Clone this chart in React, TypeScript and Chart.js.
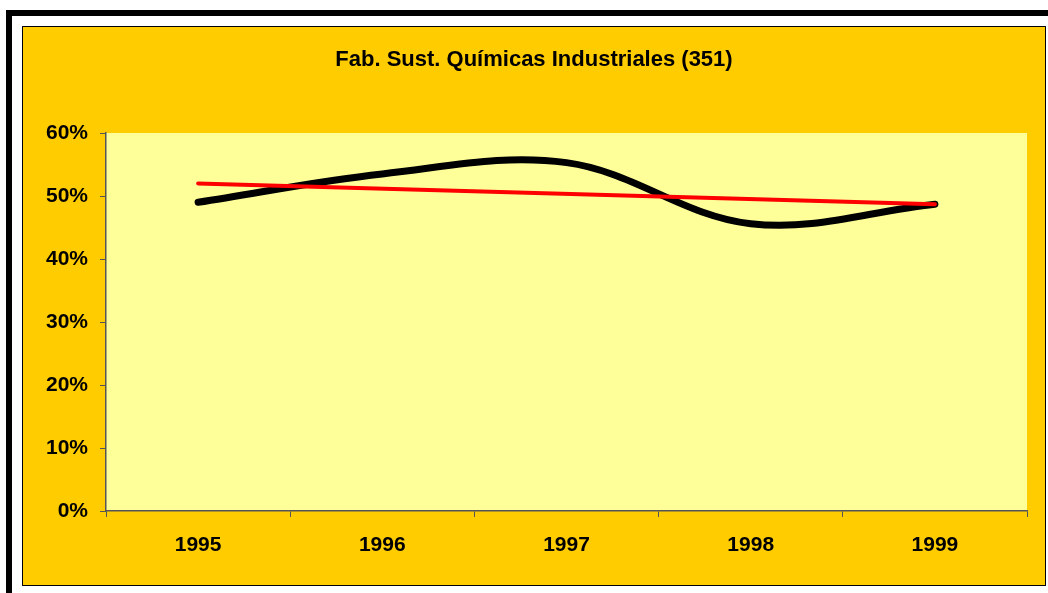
import React, { useEffect, useRef } from "react";
import { Chart, registerables } from "chart.js";

Chart.register(...registerables);

const categories = ["1995", "1996", "1997", "1998", "1999"];
const shareValues = [49.0, 53.5, 55.3, 45.6, 48.7];
const trendValues = [52.0, null, null, null, 48.7];
const yTicks = [0, 10, 20, 30, 40, 50, 60];
const titleText = "Fab. Sust. Químicas Industriales (351)";

const FONT = "'Liberation Sans', Arial, sans-serif";

const plotBg = {
  id: "plotBg",
  beforeDraw(chart: any) {
    const { ctx, chartArea } = chart;
    ctx.save();
    ctx.fillStyle = "#FFFF99";
    ctx.fillRect(chartArea.left, chartArea.top, chartArea.right - chartArea.left, chartArea.bottom - chartArea.top);
    ctx.restore();
  },
};

const centeredTitle = {
  id: "centeredTitle",
  afterDraw(chart: any) {
    const { ctx, width } = chart;
    ctx.save();
    ctx.fillStyle = "#000";
    ctx.font = `bold 22px ${FONT}`;
    ctx.textAlign = "center";
    ctx.textBaseline = "alphabetic";
    ctx.fillText(titleText, width / 2, 38.5);
    ctx.restore();
  },
};

export default function App() {
  const ref = useRef<HTMLCanvasElement | null>(null);
  useEffect(() => {
    if (!ref.current) return;
    const chart = new Chart(ref.current, {
      type: "line",
      data: {
        labels: categories,
        datasets: [
          {
            label: "trend",
            data: trendValues,
            borderColor: "#FF0000",
            borderWidth: 4,
            pointRadius: 0,
            tension: 0,
            spanGaps: true,
            borderCapStyle: "round",
            order: 0,
          },
          {
            label: "share",
            data: shareValues,
            borderColor: "#000000",
            borderWidth: 7,
            pointRadius: 0,
            tension: 0.36,
            borderCapStyle: "round",
            borderJoinStyle: "round",
            order: 1,
          },
        ],
      },
      options: {
        animation: false,
        responsive: false,
        maintainAspectRatio: false,
        layout: { padding: { top: 106, right: 18, left: 0, bottom: 0 } },
        plugins: {
          legend: { display: false },
          tooltip: { enabled: false },
          title: { display: false },
        },
        scales: {
          x: {
            type: "category",
            offset: true,
            afterFit(scale: any) {
              scale.height = 74;
            },
            grid: {
              offset: true,
              drawOnChartArea: false,
              drawTicks: true,
              tickLength: 6,
              color: "#555555",
            },
            border: { display: true, color: "#555555", width: 1.5 },
            ticks: {
              color: "#000",
              font: { family: FONT, size: 21, weight: "bold" },
              padding: 16,
              maxRotation: 0,
            },
          },
          y: {
            min: 0,
            max: 60,
            afterFit(scale: any) {
              scale.width = 83;
            },
            afterBuildTicks(scale: any) {
              scale.ticks = yTicks.map((v) => ({ value: v }));
            },
            grid: {
              drawOnChartArea: false,
              drawTicks: true,
              tickLength: 6,
              color: "#555555",
            },
            border: { display: true, color: "#555555", width: 1.5 },
            ticks: {
              color: "#000",
              font: { family: FONT, size: 21, weight: "bold" },
              padding: 12,
              callback: (v: any) => v + "%",
            },
          },
        },
      },
      plugins: [plotBg, centeredTitle],
    });
    return () => chart.destroy();
  }, []);

  return (
    <div style={{ position: "absolute", left: 0, top: 0, width: 1048, height: 593, overflow: "hidden", background: "#fff" }}>
      <div
        style={{
          position: "absolute",
          left: 6,
          top: 10,
          width: 1100,
          height: 700,
          borderLeft: "6px solid #000",
          borderTop: "6px solid #000",
        }}
      />
      <div
        style={{
          position: "absolute",
          left: 22,
          top: 26,
          width: 1022,
          height: 558,
          border: "1px solid #000",
          background: "#FFCC00",
        }}
      >
        <canvas ref={ref} width={1022} height={558} style={{ display: "block" }} />
      </div>
    </div>
  );
}
